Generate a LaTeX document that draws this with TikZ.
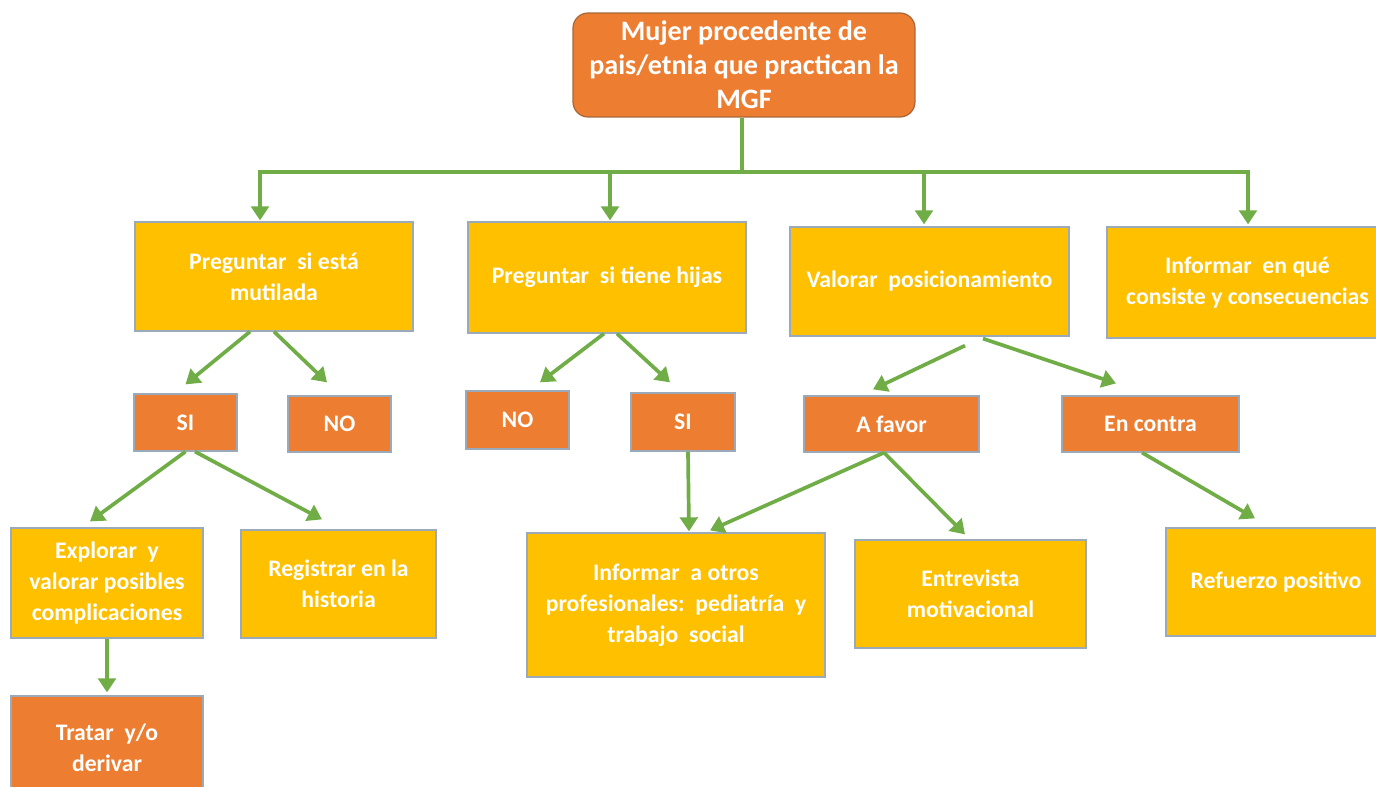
\documentclass[tikz,border=0pt]{standalone}
\usepackage{fontspec}
\setmainfont{Carlito}
\usetikzlibrary{arrows.meta}
\definecolor{orng}{HTML}{ED7D31}
\definecolor{yell}{HTML}{FFC000}
\definecolor{grn}{HTML}{70AD47}
\definecolor{bord}{HTML}{9AAABB}
\definecolor{tbord}{HTML}{A8673A}
\tikzset{
  box/.style={draw=bord, line width=0.7pt, text=white, font=\bfseries\fontsize{13.5}{17.6}\selectfont, align=center, inner sep=0pt},
  ybox/.style={box, fill=yell},
  obox/.style={box, fill=orng},
  line/.style={draw=grn, line width=2.1pt},
  arr/.style={line, -{Triangle[length=8pt,width=10pt]}}
}
\begin{document}
\begin{tikzpicture}[x=0.02cm,y=-0.02cm]
\useasboundingbox (0,0) rectangle (1376,787);
% top
\node[obox, draw=tbord, rounded corners=0.3cm, minimum width=6.84cm, minimum height=2.08cm,
  font=\bfseries\fontsize{16}{19.4}\selectfont] (top) at (744,65)
  {Mujer procedente de\\pais/etnia que practican la\\MGF};
% level 1
\node[ybox, minimum width=5.56cm, minimum height=2.18cm] (b1) at (274,276.5) {Preguntar\ \ si está\\mutilada};
\node[ybox, minimum width=5.56cm, minimum height=2.22cm] (b2) at (607,277.5) {Preguntar\ \ si tiene hijas};
\node[ybox, minimum width=5.58cm, minimum height=2.18cm] (b3) at (929.5,281.5) {Valorar\ \ posicionamiento};
\node[ybox, minimum width=5.62cm, minimum height=2.22cm] (b4) at (1247.5,282.5) {Informar\ \ en qué\\consiste y consecuencias};
% level 2
\node[obox, minimum width=2.06cm, minimum height=1.14cm] (si1) at (185.5,422.5) {SI};
\node[obox, minimum width=2.06cm, minimum height=1.12cm] (no1) at (339.5,424) {NO};
\node[obox, minimum width=2.06cm, minimum height=1.16cm] (no2) at (517.5,420) {NO};
\node[obox, minimum width=2.08cm, minimum height=1.16cm] (si2) at (683,422) {SI};
\node[obox, minimum width=3.5cm, minimum height=1.12cm] (fav) at (891.5,424) {A favor};
\node[obox, minimum width=3.54cm, minimum height=1.12cm] (con) at (1150.5,424) {En contra};
% level 3
\node[ybox, minimum width=3.84cm, minimum height=2.2cm] (exp) at (107,583) {Explorar\ \ y\\valorar posibles\\complicaciones};
\node[ybox, minimum width=3.9cm, minimum height=2.16cm] (reg) at (338.5,584) {Registrar en la\\historia};
\node[ybox, minimum width=5.96cm, minimum height=2.88cm] (inf) at (676,605) {Informar\ \ a otros\\profesionales:\ \ pediatría\ \ y\\trabajo\ \ social};
\node[ybox, minimum width=4.62cm, minimum height=2.16cm] (ent) at (970.5,594) {Entrevista\\motivacional};
\node[ybox, minimum width=4.4cm, minimum height=2.16cm] (ref) at (1276,582) {Refuerzo positivo};
% level 4
\node[obox, minimum width=3.84cm, minimum height=2.08cm] (tra) at (107,748) {Tratar\ \ y/o\\derivar};
% bus
\coordinate (d1) at (260,172);
\coordinate (d2) at (610,172);
\coordinate (d3) at (924,172);
\coordinate (d4) at (1248,172);
\draw[line] ([xshift=-0.04cm]top.south) -- ([xshift=-0.04cm]top.south |- d1);
\draw[line] ([xshift=-1.05pt]d1) -- ([xshift=1.05pt]d4);
\draw[arr] (d1) -- ([yshift=0.02cm]d1 |- b1.north);
\draw[arr] (d2) -- ([yshift=0.02cm]d2 |- b2.north);
\draw[arr] (d3) -- ([yshift=0.04cm]d3 |- b3.north);
\draw[arr] (d4) -- ([yshift=0.04cm]d4 |- b4.north);
% from b1
\draw[arr] ([xshift=-0.48cm]b1.south) -- ([yshift=0.18cm]si1.north);
\draw[arr] (b1.south) -- ([xshift=-0.25cm,yshift=0.26cm]no1.north);
% from si1
\draw[arr] (si1.south) -- ([xshift=-0.34cm,yshift=0.12cm]exp.north);
\draw[arr] ([xshift=0.19cm]si1.south) -- ([xshift=-0.33cm,yshift=0.2cm]reg.north);
\draw[arr] (exp.south) -- ([yshift=0.06cm]tra.north);
% from b2
\draw[arr] ([xshift=-0.06cm]b2.south) -- ([xshift=0.45cm,yshift=0.16cm]no2.north);
\draw[arr] ([xshift=0.2cm]b2.south) -- ([xshift=-0.26cm,yshift=0.2cm]si2.north);
\draw[arr] ([xshift=0.1cm]si2.south) -- ([xshift=0.26cm,yshift=0.02cm]inf.north);
% from b3
\draw[arr] ([xshift=0.71cm,yshift=-0.18cm]b3.south) -- ([xshift=-0.37cm,yshift=0.12cm]fav.north);
\draw[arr] ([xshift=1.07cm,yshift=-0.04cm]b3.south) -- ([xshift=-0.69cm,yshift=0.24cm]con.north);
% from fav / con
\draw[arr] ([xshift=-0.15cm]fav.south) -- ([xshift=0.68cm,yshift=0.04cm]inf.north);
\draw[arr] ([xshift=-0.15cm]fav.south) -- ([xshift=-0.11cm,yshift=0.1cm]ent.north);
\draw[arr] ([xshift=-0.17cm]con.south) -- ([xshift=-0.42cm,yshift=0.18cm]ref.north);
\end{tikzpicture}
\end{document}
